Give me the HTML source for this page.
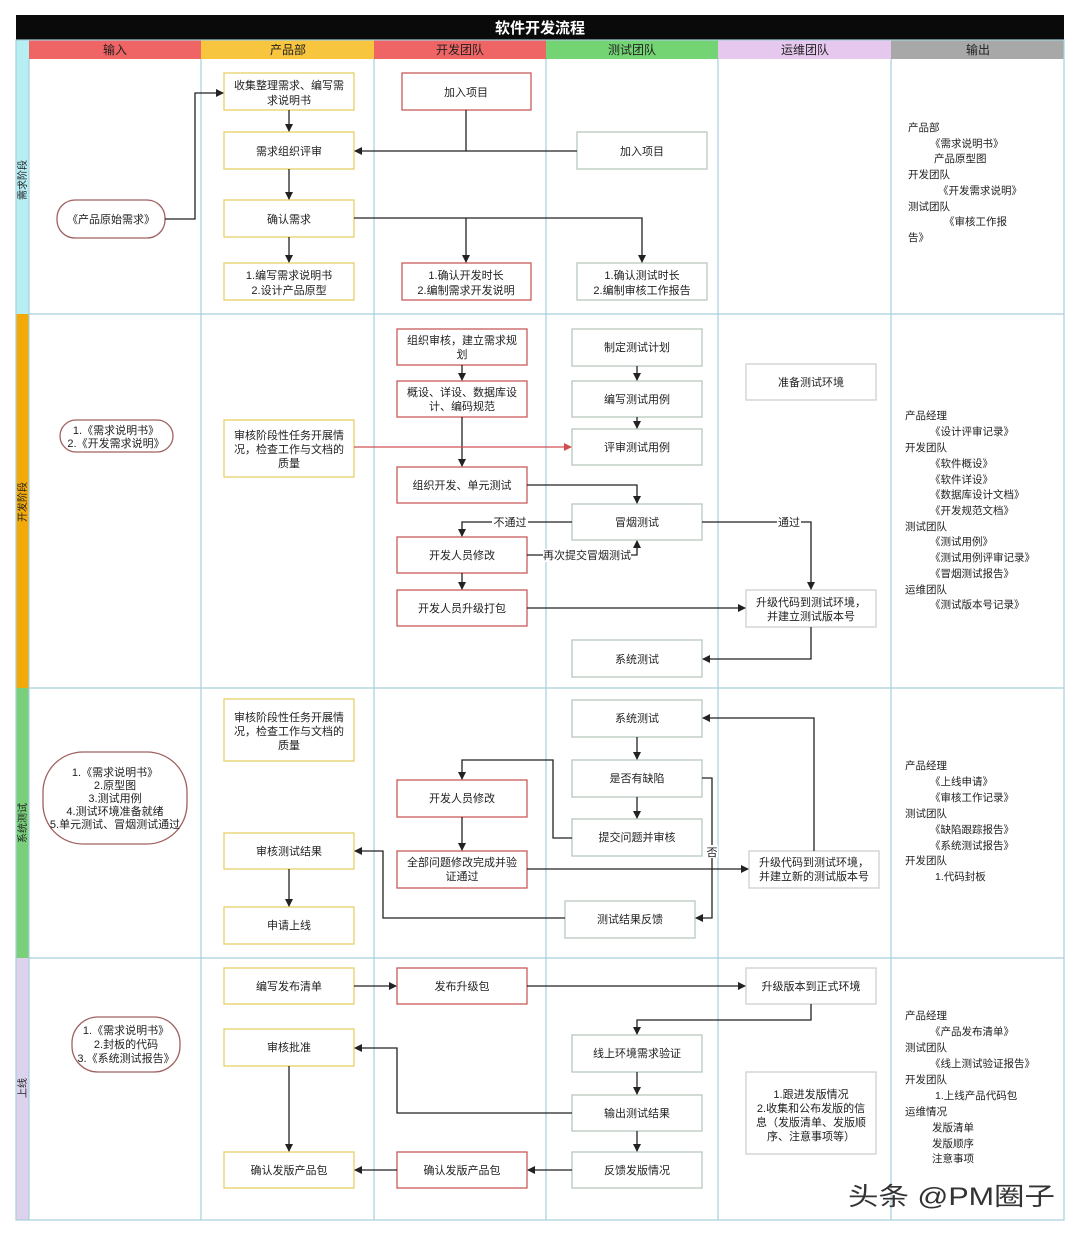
<!DOCTYPE html>
<html><head><meta charset="utf-8"><style>
html,body{margin:0;padding:0;background:#fff;}
svg text{font-family:"Liberation Sans","Noto Sans CJK SC",sans-serif;}
</style></head><body>
<svg width="1080" height="1235" viewBox="0 0 1080 1235" xmlns="http://www.w3.org/2000/svg">
<defs>
<marker id="a" markerWidth="8" markerHeight="8" refX="7" refY="4" orient="auto" markerUnits="userSpaceOnUse"><path d="M0,0 L8,4 L0,8 Z" fill="#222"/></marker>
<marker id="r" markerWidth="8" markerHeight="8" refX="7" refY="4" orient="auto" markerUnits="userSpaceOnUse"><path d="M0,0 L8,4 L0,8 Z" fill="#d05050"/></marker>
</defs>
<rect width="1080" height="1235" fill="#fff"/>
<rect x="16" y="15" width="1048" height="25" fill="#0a0a0a"/>
<text x="540" y="33" font-size="15" font-weight="bold" fill="#fff" text-anchor="middle">软件开发流程</text>
<rect x="29" y="40" width="172" height="19" fill="#ef6464"/>
<rect x="201" y="40" width="173" height="19" fill="#f8c53e"/>
<rect x="374" y="40" width="172" height="19" fill="#ef6464"/>
<rect x="546" y="40" width="172" height="19" fill="#74d474"/>
<rect x="718" y="40" width="173" height="19" fill="#e6c8ee"/>
<rect x="891" y="40" width="173" height="19" fill="#a8a8a8"/>
<g font-size="12" fill="#222" text-anchor="middle">
<text x="115" y="54">输入</text><text x="288" y="54">产品部</text><text x="460" y="54">开发团队</text>
<text x="632" y="54">测试团队</text><text x="805" y="54">运维团队</text><text x="978" y="54">输出</text>
</g>
<rect x="16" y="40" width="13" height="274" fill="#b6eef4"/>
<rect x="16" y="314" width="13" height="374" fill="#f4a90a"/>
<rect x="16" y="688" width="13" height="270" fill="#7ad07a"/>
<rect x="16" y="958" width="13" height="262" fill="#dcd2ee"/>
<g font-size="10" fill="#222">
<text transform="translate(26,200) rotate(-90)">需求阶段</text>
<text transform="translate(26,522) rotate(-90)">开发阶段</text>
<text transform="translate(26,843) rotate(-90)">系统测试</text>
<text transform="translate(26,1098) rotate(-90)">上线</text>
</g>
<g stroke="#a6cfdc" stroke-width="1.2" fill="none">
<rect x="16" y="40" width="1048" height="1180"/>
<line x1="29" y1="59" x2="29" y2="1220"/>
<line x1="201" y1="59" x2="201" y2="1220"/><line x1="374" y1="59" x2="374" y2="1220"/>
<line x1="546" y1="59" x2="546" y2="1220"/><line x1="718" y1="59" x2="718" y2="1220"/>
<line x1="891" y1="59" x2="891" y2="1220"/>
<line x1="29" y1="314" x2="1064" y2="314"/><line x1="29" y1="688" x2="1064" y2="688"/>
<line x1="29" y1="958" x2="1064" y2="958"/>
</g>
<g stroke-width="1.3" fill="#fff">
<g stroke="#e6d068">
<rect x="224" y="73" width="130" height="37"/><rect x="224" y="132" width="130" height="37"/>
<rect x="224" y="200" width="130" height="37"/><rect x="224" y="263" width="130" height="37"/>
<rect x="224" y="420" width="130" height="57"/><rect x="224" y="699" width="130" height="62"/>
<rect x="224" y="833" width="130" height="36"/><rect x="224" y="907" width="130" height="37"/>
<rect x="224" y="968" width="130" height="36"/><rect x="224" y="1029" width="130" height="37"/>
<rect x="224" y="1152" width="130" height="36"/>
</g>
<g stroke="#c85a5a">
<rect x="402" y="73" width="129" height="37"/><rect x="402" y="263" width="129" height="37"/>
<rect x="397" y="329" width="130" height="36"/><rect x="397" y="381" width="130" height="36"/>
<rect x="397" y="467" width="130" height="36"/><rect x="397" y="537" width="130" height="36"/>
<rect x="397" y="590" width="130" height="36"/><rect x="397" y="780" width="130" height="37"/>
<rect x="397" y="851" width="130" height="37"/><rect x="397" y="968" width="130" height="36"/>
<rect x="397" y="1152" width="130" height="36"/>
</g>
<g stroke="#b8c8bc">
<rect x="577" y="132" width="130" height="37"/><rect x="577" y="263" width="130" height="37"/>
<rect x="572" y="329" width="130" height="37"/><rect x="572" y="381" width="130" height="36"/>
<rect x="572" y="429" width="130" height="36"/><rect x="572" y="504" width="130" height="36"/>
<rect x="572" y="640" width="130" height="37"/><rect x="572" y="700" width="130" height="37"/>
<rect x="572" y="760" width="130" height="37"/><rect x="572" y="819" width="130" height="37"/>
<rect x="565" y="901" width="130" height="37"/><rect x="572" y="1035" width="130" height="37"/>
<rect x="572" y="1095" width="130" height="36"/><rect x="572" y="1152" width="130" height="36"/>
</g>
<g stroke="#d0d0d0">
<rect x="746" y="364" width="130" height="36"/><rect x="746" y="590" width="130" height="37"/>
<rect x="749" y="851" width="130" height="37"/><rect x="746" y="968" width="130" height="36"/>
<rect x="746" y="1072" width="130" height="82"/>
</g>
<g stroke="#a06060">
<rect x="57" y="200" width="108" height="38" rx="18"/><rect x="60" y="420" width="113" height="32" rx="16"/>
<rect x="43" y="752" width="144" height="92" rx="40"/><rect x="72" y="1017" width="108" height="55" rx="26"/>
</g>
</g>
<g font-size="11" fill="#222" text-anchor="middle">
<text x="289" y="89">收集整理需求、编写需</text><text x="289" y="104">求说明书</text>
<text x="466" y="96">加入项目</text>
<text x="289" y="155">需求组织评审</text><text x="642" y="155">加入项目</text>
<text x="111" y="223">《产品原始需求》</text>
<text x="289" y="223">确认需求</text>
<text x="289" y="279">1.编写需求说明书</text><text x="289" y="294">2.设计产品原型</text>
<text x="466" y="279">1.确认开发时长</text><text x="466" y="294">2.编制需求开发说明</text>
<text x="642" y="279">1.确认测试时长</text><text x="642" y="294">2.编制审核工作报告</text>
<text x="462" y="344">组织审核，建立需求规</text><text x="462" y="358">划</text>
<text x="462" y="396">概设、详设、数据库设</text><text x="462" y="410">计、编码规范</text>
<text x="462" y="489">组织开发、单元测试</text>
<text x="462" y="559">开发人员修改</text><text x="462" y="612">开发人员升级打包</text>
<text x="637" y="351">制定测试计划</text><text x="637" y="403">编写测试用例</text>
<text x="637" y="451">评审测试用例</text><text x="637" y="526">冒烟测试</text>
<text x="637" y="663">系统测试</text>
<text x="811" y="386">准备测试环境</text>
<text x="811" y="606">升级代码到测试环境，</text><text x="811" y="620">并建立测试版本号</text>
<text x="116" y="434">1.《需求说明书》</text><text x="116" y="447">2.《开发需求说明》</text>
<text x="289" y="439">审核阶段性任务开展情</text><text x="289" y="453">况，检查工作与文档的</text><text x="289" y="467">质量</text>
<text x="289" y="721">审核阶段性任务开展情</text><text x="289" y="735">况，检查工作与文档的</text><text x="289" y="749">质量</text>
<text x="115" y="776">1.《需求说明书》</text><text x="115" y="789">2.原型图</text><text x="115" y="802">3.测试用例</text>
<text x="115" y="815">4.测试环境准备就绪</text><text x="115" y="828">5.单元测试、冒烟测试通过</text>
<text x="637" y="722">系统测试</text><text x="637" y="782">是否有缺陷</text><text x="637" y="841">提交问题并审核</text>
<text x="462" y="802">开发人员修改</text>
<text x="462" y="866">全部问题修改完成并验</text><text x="462" y="880">证通过</text>
<text x="289" y="855">审核测试结果</text><text x="289" y="929">申请上线</text>
<text x="630" y="923">测试结果反馈</text>
<text x="814" y="866">升级代码到测试环境，</text><text x="814" y="880">并建立新的测试版本号</text>
<text x="289" y="990">编写发布清单</text><text x="462" y="990">发布升级包</text><text x="811" y="990">升级版本到正式环境</text>
<text x="126" y="1034">1.《需求说明书》</text><text x="126" y="1048">2.封板的代码</text><text x="126" y="1062">3.《系统测试报告》</text>
<text x="289" y="1051">审核批准</text><text x="637" y="1057">线上环境需求验证</text><text x="637" y="1117">输出测试结果</text>
<text x="811" y="1098">1.跟进发版情况</text><text x="811" y="1112">2.收集和公布发版的信</text><text x="811" y="1126">息（发版清单、发版顺</text><text x="811" y="1140">序、注意事项等）</text>
<text x="289" y="1174">确认发版产品包</text><text x="462" y="1174">确认发版产品包</text><text x="637" y="1174">反馈发版情况</text>
</g>
<g stroke="#222" stroke-width="1.3" fill="none" marker-end="url(#a)">
<path d="M165,219 H195 V93 H223"/>
<path d="M289,110 V131"/><path d="M289,169 V199"/><path d="M289,237 V262"/>
<path d="M577,151 H355"/><path d="M466,110 V151" marker-end="none"/>
<path d="M354,218 H642 V262"/><path d="M466,218 V262"/>
<path d="M462,365 V380"/><path d="M462,417 V466"/>
<path d="M527,485 H637 V503"/><path d="M637,366 V380"/><path d="M637,417 V428"/>
<path d="M572,522 H462 V536"/><path d="M527,555 H637 V541"/><path d="M462,573 V589"/>
<path d="M527,608 H745"/><path d="M702,522 H811 V589"/><path d="M811,627 V659 H703"/>
<path d="M637,737 V759"/><path d="M637,797 V818"/>
<path d="M572,838 H553 V760 H462 V779"/><path d="M462,817 V850"/>
<path d="M527,869 H748"/><path d="M814,851 V718 H703"/>
<path d="M702,778 H712 V918 H696"/><path d="M565,918 H383 V851 H355"/>
<path d="M289,869 V906"/>
<path d="M354,986 H396"/><path d="M527,986 H745"/><path d="M811,1004 V1020 H637 V1034"/>
<path d="M637,1072 V1094"/><path d="M637,1131 V1151"/>
<path d="M572,1113 H397 V1048 H355"/><path d="M289,1066 V1151"/>
<path d="M572,1170 H528"/><path d="M397,1170 H355"/>
</g>
<path d="M354,447 H571" stroke="#d05050" stroke-width="1.2" fill="none" marker-end="url(#r)"/>
<g font-size="11" fill="#222" text-anchor="middle">
<rect x="492" y="515" width="36" height="13" fill="#fff"/><text x="510" y="526">不通过</text>
<rect x="543" y="549" width="88" height="13" fill="#fff"/><text x="587" y="559">再次提交冒烟测试</text>
<rect x="777" y="515" width="24" height="13" fill="#fff"/><text x="789" y="526">通过</text>
<rect x="706" y="845" width="12" height="13" fill="#fff"/><text x="712" y="856">否</text>
</g>
<g font-size="10.5" fill="#222">
<text x="908" y="131">产品部</text><text x="930" y="147">《需求说明书》</text><text x="934" y="162">产品原型图</text>
<text x="908" y="178">开发团队</text><text x="938" y="194">《开发需求说明》</text><text x="908" y="210">测试团队</text>
<text x="944" y="225">《审核工作报</text><text x="908" y="241">告》</text>
<text x="905" y="419">产品经理</text><text x="930" y="435">《设计评审记录》</text><text x="905" y="451">开发团队</text>
<text x="930" y="467">《软件概设》</text><text x="930" y="483">《软件详设》</text><text x="930" y="498">《数据库设计文档》</text>
<text x="930" y="514">《开发规范文档》</text><text x="905" y="530">测试团队</text><text x="930" y="545">《测试用例》</text>
<text x="930" y="561">《测试用例评审记录》</text><text x="930" y="577">《冒烟测试报告》</text><text x="905" y="593">运维团队</text>
<text x="930" y="608">《测试版本号记录》</text>
<text x="905" y="769">产品经理</text><text x="930" y="785">《上线申请》</text><text x="930" y="801">《审核工作记录》</text>
<text x="905" y="817">测试团队</text><text x="930" y="833">《缺陷跟踪报告》</text><text x="930" y="849">《系统测试报告》</text>
<text x="905" y="864">开发团队</text><text x="935" y="880">1.代码封板</text>
<text x="905" y="1019">产品经理</text><text x="930" y="1035">《产品发布清单》</text><text x="905" y="1051">测试团队</text>
<text x="930" y="1067">《线上测试验证报告》</text><text x="905" y="1083">开发团队</text><text x="935" y="1099">1.上线产品代码包</text>
<text x="905" y="1115">运维情况</text><text x="932" y="1131">发版清单</text><text x="932" y="1147">发版顺序</text><text x="932" y="1162">注意事项</text>
</g>
<text x="848" y="1205" font-size="25" fill="#333" textLength="207" lengthAdjust="spacingAndGlyphs">头条 @PM圈子</text>
</svg>
</body></html>
